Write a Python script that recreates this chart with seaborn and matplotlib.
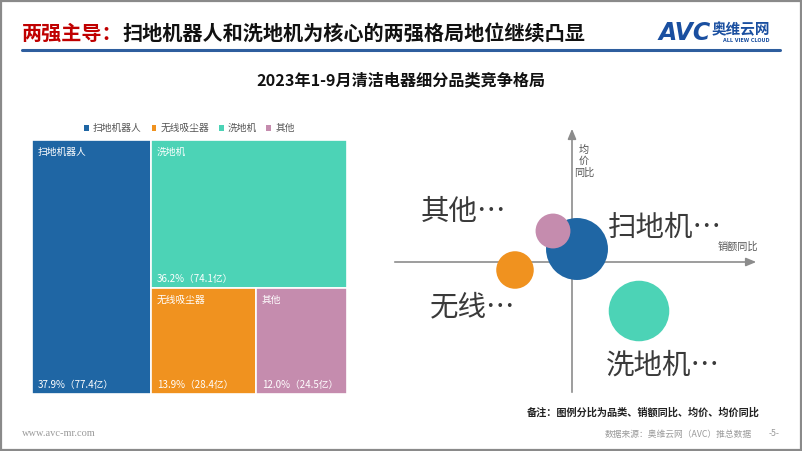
import matplotlib
matplotlib.use('Agg')
import matplotlib.pyplot as plt
import seaborn as sns
import pandas as pd
from matplotlib.patches import Rectangle, Patch

# ---------------- data ----------------
categories = ['扫地机器人', '洗地机', '无线吸尘器', '其他']
sales_yi = [77.4, 74.1, 28.4, 24.5]          # 销额（亿）
share_pct = [37.9, 36.2, 13.9, 12.0]         # 份额 %
legend_order = ['扫地机器人', '无线吸尘器', '洗地机', '其他']
bubble_labels = ['扫地机…', '洗地机…', '无线…', '其他…']
sales_yoy = [1.0, 13.4, -11.4, -3.8]         # 销额同比（相对位置）
price_yoy = [2.6, -9.8, -1.6, 6.2]           # 均价同比（相对位置）

palette = {'扫地机器人': '#1F66A4', '洗地机': '#4CD3B6',
           '无线吸尘器': '#F0921F', '其他': '#C58CAE'}

sns.set_style('white')
plt.rcParams['font.family'] = ['Noto Sans CJK SC', 'DejaVu Sans']

W, H = 802, 451
fig = plt.figure(figsize=(W / 100, H / 100), dpi=100)
fig.patch.set_facecolor('white')


def fx(px):
    return px / W


def fy(py):
    return 1 - py / H


# frame
fig.add_artist(Rectangle((0.001, 0.002), 0.998, 0.996, transform=fig.transFigure,
                         fill=False, edgecolor='#8a8a8a', linewidth=1.6))

# header
fig.text(fx(22), fy(33), '两强主导：', color='#C00000', fontsize=14.5,
         fontweight='bold', va='center', ha='left')
fig.text(fx(122), fy(33), '扫地机器人和洗地机为核心的两强格局地位继续凸显', color='#111111',
         fontsize=14.5, fontweight='bold', va='center', ha='left')
fig.add_artist(plt.Line2D([fx(22), fx(780)], [fy(50), fy(50)], color='#2E5E9E',
                          linewidth=2.2, transform=fig.transFigure))
# logo
fig.text(fx(659), fy(33), 'AVC', color='#1A4FA0', fontsize=17, fontweight='bold',
         style='italic', va='center', ha='left', family='DejaVu Sans')
fig.text(fx(712), fy(29), '奥维云网', color='#1A4FA0', fontsize=10.5, fontweight='bold',
         va='center', ha='left')
fig.text(fx(746), fy(41), 'ALL VIEW CLOUD', color='#1A4FA0', fontsize=3.5,
         va='center', ha='center', family='DejaVu Sans', fontweight='bold')

# subtitle
fig.text(0.5, fy(80), '2023年1-9月清洁电器细分品类竞争格局', fontsize=11.6, fontweight='bold',
         color='#111111', ha='center', va='center')

# ---------------- treemap ----------------
ax_t = fig.add_axes([fx(32), fy(394), fx(347) - fx(32), fy(140) - fy(394)])
ax_t.set_xlim(0, 1)
ax_t.set_ylim(0, 1)
ax_t.axis('off')

total = sum(sales_yi)
w0 = sales_yi[0] / total
rest = sum(sales_yi[1:])
h1 = sales_yi[1] / rest
w2 = sales_yi[2] / (sales_yi[2] + sales_yi[3])
rects = {
    categories[0]: (0, 0, w0, 1),
    categories[1]: (w0, 1 - h1, 1 - w0, h1),
    categories[2]: (w0, 0, (1 - w0) * w2, 1 - h1),
    categories[3]: (w0 + (1 - w0) * w2, 0, (1 - w0) * (1 - w2), 1 - h1),
}
for cat, val, sh in zip(categories, sales_yi, share_pct):
    x0, y0, w, h = rects[cat]
    ax_t.add_patch(Rectangle((x0, y0), w, h, facecolor=palette[cat], edgecolor='white',
                             linewidth=1.2))
    ax_t.annotate(cat, (x0, y0 + h), xytext=(4, -5), textcoords='offset points',
                  color='white', fontsize=7, ha='left', va='top')
    ax_t.annotate(f'{sh:.1f}%（{val:.1f}亿）', (x0, y0), xytext=(4, 3),
                  textcoords='offset points', color='white', fontsize=7,
                  ha='left', va='bottom')

handles = [Patch(facecolor=palette[c], edgecolor='none', label=c) for c in legend_order]
leg = ax_t.legend(handles=handles, loc='lower center', bbox_to_anchor=(0.5, 1.0),
                  ncol=4, frameon=False, fontsize=7, handlelength=0.5,
                  handleheight=0.5, handletextpad=0.4, columnspacing=1.0,
                  borderaxespad=0.3)
for t in leg.get_texts():
    t.set_color('#555555')

# ---------------- bubble chart ----------------
ax_b = fig.add_axes([fx(380), fy(405), fx(780) - fx(380), fy(115) - fy(405)])
ax_b.set_xlim(-38.4, 41.6)
ax_b.set_ylim(-28.6, 29.4)
ax_b.axis('off')

df = pd.DataFrame({'cat': categories, 'x': sales_yoy, 'y': price_yoy, 'share': share_pct})
sns.scatterplot(data=df, x='x', y='y', hue='cat', palette=palette, size='share',
                sizes=(0, 1990), size_norm=(0, 37.9), legend=False, linewidth=0,
                alpha=1, ax=ax_b, zorder=3)

axis_col = '#8c8c8c'
ax_b.annotate('', xy=(37.4, 0), xytext=(-36, 0),
              arrowprops=dict(arrowstyle='-|>,head_length=0.6,head_width=0.25',
                              color=axis_col, lw=1.2), zorder=1)
ax_b.annotate('', xy=(0, 27.2), xytext=(0, -26.6),
              arrowprops=dict(arrowstyle='-|>,head_length=0.6,head_width=0.25',
                              color=axis_col, lw=1.2), zorder=1)
ax_b.text(2.4, 20.2, '均\n价\n同比', fontsize=7.3, color='#555555', ha='center',
          va='center', linespacing=1.15)
ax_b.text(33.2, 3.0, '销额同比', fontsize=7.3, color='#555555', ha='center', va='center')

offsets = {'扫地机…': (22, 15), '洗地机…': (-24, -39),
           '无线…': (-61, -27), '其他…': (-95, 14)}
for lab, xv, yv in zip(bubble_labels, sales_yoy, price_yoy):
    ax_b.annotate(lab, (xv, yv), xytext=offsets[lab], textcoords='offset points',
                  fontsize=20.5, color='#3a3a3a', ha='left', va='center', zorder=4)

fig.text(fx(760), fy(413), '备注：图例分比为品类、销额同比、均价、均价同比', fontsize=7.3,
         fontweight='bold', color='#222222', ha='right', va='center')

# footer
fig.text(fx(22), fy(433), 'www.avc-mr.com', fontsize=7.5, color='#9a9a9a',
         family='Liberation Serif', ha='left', va='center')
fig.text(fx(752), fy(434), '数据来源：奥维云网（AVC）推总数据', fontsize=6.3, color='#9a9a9a',
         ha='right', va='center')
fig.text(fx(774), fy(434), '-5-', fontsize=6.3, color='#9a9a9a', ha='center', va='center')

fig.savefig('out.png', dpi=100, facecolor='white')
